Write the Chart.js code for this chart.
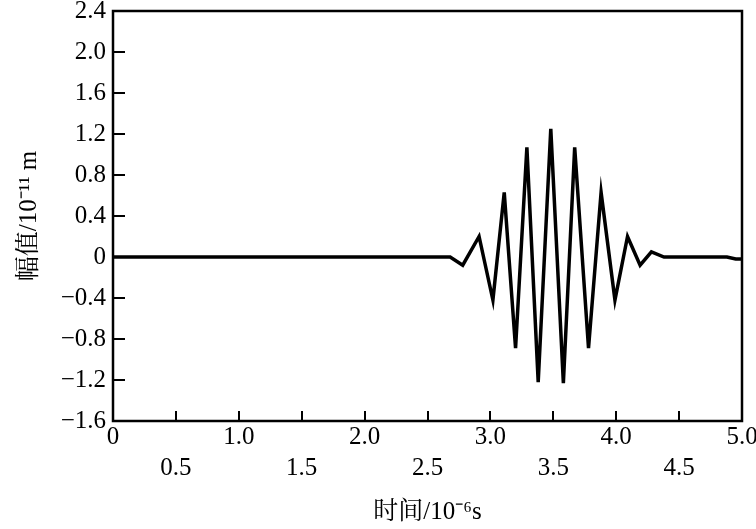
<!DOCTYPE html>
<html>
<head>
<meta charset="utf-8">
<script src="https://cdn.jsdelivr.net/npm/chart.js@4.4.0/dist/chart.umd.min.js"></script>
<style>
  html, body { margin: 0; padding: 0; background: #fff; }
  #wrap { width: 756px; height: 529px; }
</style>
</head>
<body>
<div id="wrap"><canvas id="grafica"></canvas></div>
<script>
// tiempo (10^-6 s) y amplitud (10^-11 m)
const tiempo = [0, 2.68, 2.78, 2.91, 3.02, 3.11, 3.20, 3.29, 3.38, 3.48, 3.58, 3.67, 3.78, 3.88, 3.99, 4.09, 4.19, 4.28, 4.38, 4.88, 4.95, 5.0];
const amplitud = [0, 0, -0.08, 0.20, -0.42, 0.63, -0.89, 1.07, -1.22, 1.25, -1.23, 1.07, -0.89, 0.63, -0.42, 0.20, -0.08, 0.05, 0, 0, -0.02, -0.02];

const xTickLabels = ['0', '0.5', '1.0', '1.5', '2.0', '2.5', '3.0', '3.5', '4.0', '4.5', '5.0'];
const yTickLabels = ['-1.6', '-1.2', '-0.8', '-0.4', '0', '0.4', '0.8', '1.2', '1.6', '2.0', '2.4'];

const fuente = "'Times New Roman', 'Liberation Serif', Tinos, 'Noto Serif CJK SC', 'Noto Sans CJK SC', serif";

// marcas hacia dentro + marco completo
const marcoPlugin = {
    id: 'marco',
    afterDatasetsDraw(chart) {
        const { ctx, chartArea: a, scales: { x, y } } = chart;
        ctx.save();
        ctx.strokeStyle = '#000';
        ctx.lineWidth = 2;
        ctx.beginPath();
        x.ticks.forEach(t => {
            const px = Math.round(x.getPixelForValue(t.value));
            ctx.moveTo(px, a.bottom);
            ctx.lineTo(px, a.bottom - 10);
        });
        y.ticks.forEach(t => {
            const py = Math.round(y.getPixelForValue(t.value));
            ctx.moveTo(a.left, py);
            ctx.lineTo(a.left + 12, py);
        });
        ctx.stroke();
        ctx.lineWidth = 2.5;
        ctx.strokeRect(a.left, a.top, a.right - a.left, a.bottom - a.top);
        ctx.restore();
    }
};

new Chart(document.getElementById('grafica'), {
    type: 'line',
    data: {
        datasets: [{
            data: tiempo.map((t, i) => ({ x: t, y: amplitud[i] })),
            borderColor: '#000',
            borderWidth: 3.5,
            pointRadius: 0,
            tension: 0,
            fill: false
        }]
    },
    options: {
        responsive: true,
        maintainAspectRatio: false,
        animation: false,
        layout: { padding: { top: 11, right: 14, left: 0, bottom: 0 } },
        plugins: { legend: { display: false }, tooltip: { enabled: false } },
        scales: {
            x: {
                type: 'linear',
                min: 0, max: 5,
                afterFit: s => { s.height = 108; s.paddingLeft = 0; s.paddingRight = 0; },
                grid: { display: false, drawTicks: false },
                border: { display: false },
                ticks: {
                    stepSize: 0.5,
                    autoSkip: false,
                    maxRotation: 0,
                    padding: 1,
                    color: '#000',
                    font: { family: fuente, size: 25, lineHeight: 1.25 },
                    callback: (v, i) => (i % 2 === 0 ? [xTickLabels[i]] : ['', xTickLabels[i]])
                },
                title: {
                    display: true,
                    text: '时间/10⁻⁶s',
                    color: '#000',
                    font: { family: fuente, size: 25, lineHeight: 1.2 },
                    padding: { top: 0, bottom: 2 }
                }
            },
            y: {
                min: -1.6, max: 2.4,
                afterFit: s => { s.width = 113; s.paddingTop = 0; s.paddingBottom = 0; },
                grid: { display: false, drawTicks: false },
                border: { display: false },
                ticks: {
                    stepSize: 0.4,
                    autoSkip: false,
                    padding: 7,
                    color: '#000',
                    font: { family: fuente, size: 25 },
                    callback: (v, i) => yTickLabels[i].replace('-', '\u2212')
                },
                title: {
                    display: true,
                    text: '幅值/10⁻¹¹ m',
                    color: '#000',
                    font: { family: fuente, size: 25, lineHeight: 1.2 },
                    padding: { top: 14, bottom: 0 }
                }
            }
        }
    },
    plugins: [marcoPlugin]
});
</script>
</body>
</html>
